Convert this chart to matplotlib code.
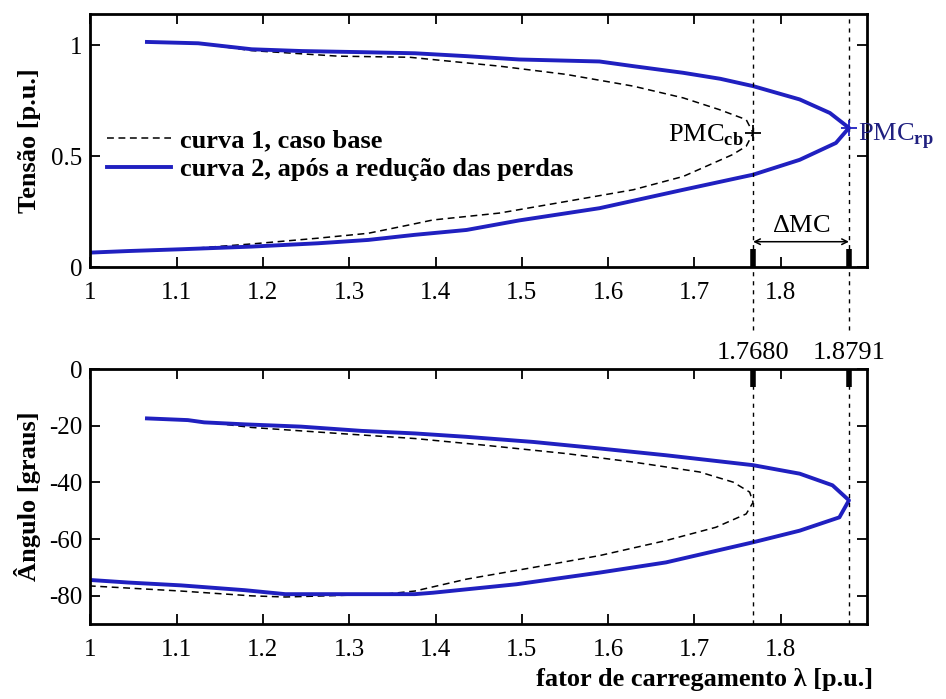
import numpy as np
import matplotlib.pyplot as plt

plt.rcParams['font.family'] = ['Liberation Serif', 'DejaVu Serif']
plt.rcParams['mathtext.fontset'] = 'custom'
plt.rcParams['mathtext.rm'] = 'Liberation Serif'
plt.rcParams['mathtext.bf'] = 'Liberation Serif:bold'

# curva 1 - caso base (tensao)
lam1_v = [1.0656, 1.125, 1.187, 1.287, 1.370, 1.474, 1.551, 1.629, 1.687, 1.729, 1.760, 1.768,
          1.760, 1.744, 1.687, 1.629, 1.551, 1.474, 1.397, 1.370, 1.322, 1.264, 1.187, 1.105, 1.044, 1.000]
v1 = [1.014, 1.008, 0.975, 0.950, 0.945, 0.905, 0.868, 0.815, 0.762, 0.709, 0.664, 0.604,
      0.544, 0.506, 0.408, 0.348, 0.295, 0.243, 0.212, 0.190, 0.152, 0.130, 0.104, 0.080, 0.072, 0.065]

# curva 2 - apos a reducao das perdas (tensao)
lam2_v = [1.0656, 1.125, 1.187, 1.245, 1.314, 1.376, 1.436, 1.497, 1.590, 1.629, 1.687, 1.730, 1.768,
          1.822, 1.857, 1.8791, 1.864, 1.822, 1.768, 1.687, 1.590, 1.497, 1.436, 1.376, 1.322, 1.264,
          1.187, 1.105, 1.044, 1.000]
v2 = [1.014, 1.008, 0.981, 0.973, 0.968, 0.963, 0.950, 0.935, 0.926, 0.905, 0.875, 0.848, 0.815,
      0.755, 0.694, 0.627, 0.559, 0.483, 0.416, 0.348, 0.265, 0.210, 0.167, 0.145, 0.122, 0.107,
      0.092, 0.080, 0.072, 0.065]

# curva 1 - caso base (angulo)
lam1_a = [1.0656, 1.113, 1.187, 1.287, 1.376, 1.455, 1.551, 1.629, 1.706, 1.745, 1.764, 1.768,
          1.760, 1.725, 1.667, 1.590, 1.513, 1.436, 1.376, 1.341, 1.226, 1.187, 1.105, 1.000]
a1 = [-17.4, -18.0, -20.6, -22.7, -24.5, -26.8, -29.8, -32.8, -36.3, -39.9, -43.4, -47.0,
      -51.1, -55.8, -60.5, -65.8, -70.0, -74.1, -78.3, -79.4, -80.4, -80.0, -78.3, -76.5]

# curva 2 - apos a reducao das perdas (angulo)
lam2_a = [1.0656, 1.113, 1.132, 1.179, 1.244, 1.314, 1.376, 1.436, 1.513, 1.590, 1.667, 1.768, 1.822,
          1.860, 1.8791, 1.868, 1.822, 1.768, 1.667, 1.590, 1.494, 1.397, 1.376, 1.226, 1.179, 1.105,
          1.044, 1.000]
a2 = [-17.4, -18.0, -18.8, -19.5, -20.3, -21.8, -22.7, -23.9, -25.7, -28.0, -30.4, -33.9, -36.9,
      -41.0, -46.3, -52.3, -57.0, -61.1, -68.2, -71.8, -75.9, -78.9, -79.4, -79.4, -78.0, -76.3,
      -75.3, -74.4]

# pontos de maximo carregamento
pmc_lam = [1.7680, 1.8791]
pmc_v = [0.604, 0.627]
pmc_labels = ['1.7680', '1.8791']

xticks = [1, 1.1, 1.2, 1.3, 1.4, 1.5, 1.6, 1.7, 1.8]
xticklabels = ['1', '1.1', '1.2', '1.3', '1.4', '1.5', '1.6', '1.7', '1.8']

blue = '#2020c0'
fs = 18
lfs = 19

fig = plt.figure(figsize=(9.46, 6.99), dpi=100)
ax1 = fig.add_axes([0.0955, 0.618, 0.821, 0.362])
ax2 = fig.add_axes([0.0955, 0.107, 0.821, 0.365])

for ax in (ax1, ax2):
    ax.set_xlim(1, 1.9)
    ax.set_xticks(xticks)
    ax.set_xticklabels(xticklabels)
    ax.tick_params(direction='in', top=True, right=True, labelsize=fs, length=7, width=1.3)
    ax.tick_params(axis='x', pad=11)
    ax.tick_params(axis='y', pad=6)
    for s in ax.spines.values():
        s.set_linewidth(2)

# --- tensao ---
ax1.plot(lam1_v, v1, 'k--', lw=1.1, dashes=(4.5, 3), label='curva 1, caso base')
ax1.plot(lam2_v, v2, color=blue, lw=2.8, label='curva 2, após a redução das perdas')
ax1.set_ylim(0, 1.14)
ax1.set_yticks([0, 0.5, 1])
ax1.set_yticklabels(['0', '0.5', '1'])
ax1.set_ylabel('Tensão [p.u.]', fontsize=lfs, fontweight='bold')
ax1.yaxis.set_label_coords(-0.064, 0.5)
ax1.set_xticks(pmc_lam, minor=True)
ax1.tick_params(which='minor', direction='in', top=False, bottom=True, length=13, width=4)
for x in pmc_lam:
    ax1.axvline(x, ymin=-0.25, ymax=1, color='k', ls='--', lw=1.0, dashes=(3, 3.5), clip_on=False)

ax1.plot(pmc_lam[0], pmc_v[0], '+', color='k', ms=12, mew=1.3)
ax1.plot(pmc_lam[1], pmc_v[1], '+', color=blue, ms=12, mew=1.3)
ax1.text(pmc_lam[0] - 0.011, 0.566, r'PMC$_{\bf cb}$', ha='right', va='baseline', fontsize=lfs)
ax1.text(pmc_lam[1] + 0.010, 0.572, r'PMC$_{\bf rp}$', ha='left', va='baseline', fontsize=lfs,
         color='#202080', clip_on=False)
ax1.annotate('', xy=(pmc_lam[0], 0.114), xytext=(pmc_lam[1], 0.114),
             arrowprops=dict(arrowstyle='<->', color='k', lw=1.1, shrinkA=0, shrinkB=0))
ax1.text((pmc_lam[0] + pmc_lam[1]) / 2, 0.158, r'$\Delta$MC', ha='center', va='baseline', fontsize=lfs)

leg = ax1.legend(loc='center left', bbox_to_anchor=(0.022, 0.443), frameon=False, fontsize=lfs,
                 handlelength=2.4, handletextpad=0.35, borderaxespad=0, borderpad=0, labelspacing=0.22)
for t in leg.get_texts():
    t.set_fontweight('bold')

# --- angulo ---
ax2.plot(lam1_a, a1, 'k--', lw=1.1, dashes=(4.5, 3))
ax2.plot(lam2_a, a2, color=blue, lw=2.8)
ax2.set_ylim(-90, 0)
ax2.set_yticks([-80, -60, -40, -20, 0])
ax2.set_yticklabels(['-80', '-60', '-40', '-20', '0'])
ax2.set_ylabel('Ângulo [graus]', fontsize=lfs, fontweight='bold')
ax2.yaxis.set_label_coords(-0.064, 0.5)
ax2.set_xlabel('fator de carregamento λ [p.u.]', fontsize=lfs, fontweight='bold', loc='right')
ax2.xaxis.set_label_coords(1.008, -0.172)
for x in pmc_lam:
    ax2.axvline(x, color='k', ls='--', lw=1.0, dashes=(3, 3.5))

sec = ax2.secondary_xaxis('top')
sec.set_xticks(pmc_lam)
sec.set_xticklabels(pmc_labels)
sec.tick_params(direction='in', length=13, width=4, labelsize=lfs, pad=4)

fig.savefig('out.png', dpi=100)
